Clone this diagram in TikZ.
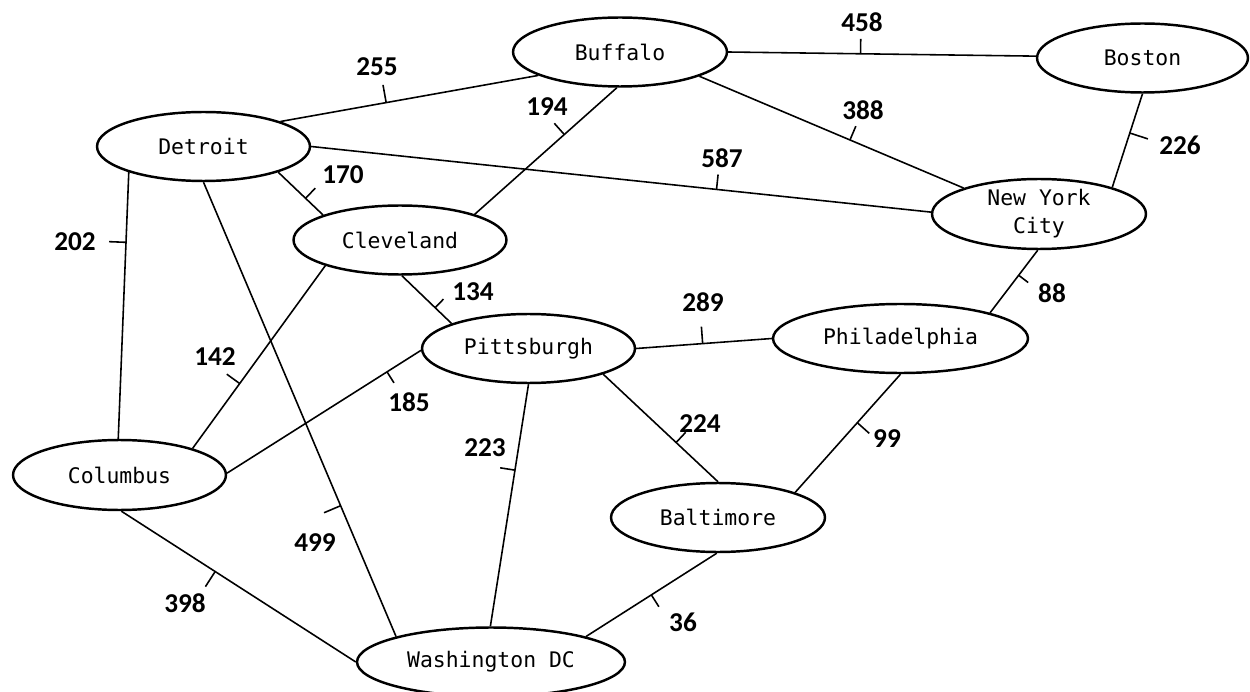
\documentclass[tikz,border=0pt]{standalone}
\usepackage{fontspec}
\usetikzlibrary{shapes.geometric,calc}
\newfontfamily\cityfnt{DejaVu Sans Mono}
\newfontfamily\wtfnt{Carlito}
\begin{document}
\begin{tikzpicture}[x=0.02cm,y=-0.02cm,
  city/.style={ellipse, draw, line width=1.4pt, inner sep=0pt, minimum height=1.38cm,
    align=center, font=\cityfnt\fontsize{12.2}{16}\selectfont},
  road/.style={line width=0.9pt},
  wt/.style={font=\wtfnt\bfseries\fontsize{15.5}{18}\selectfont, inner sep=0pt}]
\useasboundingbox (0,0) rectangle (1250,692);
% cities
\node[city, minimum width=4.28cm] (buf) at (620,52) {Buffalo};
\node[city, minimum width=4.22cm] (bos) at (1142.5,58) {Boston};
\node[city, minimum width=4.26cm] (det) at (203.5,146.5) {Detroit};
\node[city, minimum width=4.28cm, minimum height=1.4cm] (nyc) at (1039,214) {New York\\City};
\node[city, minimum width=4.26cm] (cle) at (400,240) {Cleveland};
\node[city, minimum width=4.26cm] (pit) at (528.5,348.5) {Pittsburgh};
\node[city, minimum width=5.1cm] (phi) at (900.5,338.5) {Philadelphia};
\node[city, minimum width=4.26cm, minimum height=1.4cm] (col) at (119.5,475) {Columbus};
\node[city, minimum width=4.28cm] (bal) at (718,517.5) {Baltimore};
\node[city, minimum width=5.36cm] (was) at (491,662) {Washington DC};
% roads
\draw[road] (det.18) -- coordinate[pos=0.41] (t1) (buf.-164);
\draw[road] (buf.0) -- coordinate[pos=0.43] (t2) (bos.179);
\draw[road] (buf.-17) -- coordinate[pos=0.57] (t3) (nyc.161);
\draw[road] (buf.-95) -- coordinate[pos=0.37] (t4) (cle.19);
\draw[road] (det.0) -- coordinate[pos=0.654] (t5) (nyc.179);
\draw[road] (det.-19) -- coordinate[pos=0.61] (t6) (cle.162);
\draw[road] (det.-161) -- coordinate[pos=0.263] (t7) (col.92);
\draw[road] (det.-90) -- coordinate[pos=0.712] (t8) (was.165);
\draw[road] (bos.-90) -- coordinate[pos=0.42] (t9) (nyc.20);
\draw[road] (nyc.-92) -- coordinate[pos=0.40] (t10) (phi.16);
\draw[road] (cle.-87) -- coordinate[pos=0.67] (t11) (pit.162);
\draw[road] (cle.-161) -- coordinate[pos=0.645] (t12) (col.20);
\draw[road] (pit.0) -- coordinate[pos=0.49] (t13) (phi.180);
\draw[road] (pit.181) -- coordinate[pos=0.175] (t14) (col.1);
\draw[road] (pit.-19) -- coordinate[pos=0.635] (t15) (bal.90);
\draw[road] (pit.-90) -- coordinate[pos=0.355] (t16) (was.91);
\draw[road] (phi.-90) -- coordinate[pos=0.41] (t17) (bal.18);
\draw[road] (col.-87) -- coordinate[pos=0.40] (t18) (was.180);
\draw[road] (bal.-92) -- coordinate[pos=0.50] (t19) (was.15);
% weights
\node[wt] (w1) at (377,67) {255};
\node[wt] (w2) at (862,22) {458};
\node[wt] (w3) at (863,110) {388};
\node[wt] (w4) at (547,107) {194};
\node[wt] (w5) at (722,158) {587};
\node[wt] (w6) at (343,175) {170};
\node[wt] (w7) at (75,242) {202};
\node[wt] (w8) at (315,543) {499};
\node[wt] (w9) at (1180,145) {226};
\node[wt] (w10) at (1052,293) {88};
\node[wt] (w11) at (473,292) {134};
\node[wt] (w12) at (215,357) {142};
\node[wt] (w13) at (703,302) {289};
\node[wt] (w14) at (409,402) {185};
\node[wt] (w15) at (700,424) {224};
\node[wt] (w16) at (485,448) {223};
\node[wt] (w17) at (887,439) {99};
\node[wt] (w18) at (185,603) {398};
\node[wt] (w19) at (683,622) {36};
% ticks
\draw[road] (t1) -- ($(t1)!0.36cm!90:(buf.-164)$);
\draw[road] (t2) -- ($(t2)!0.3cm!90:(bos.179)$);
\draw[road] (t3) -- ($(t3)!0.3cm!90:(nyc.161)$);
\draw[road] (t4) -- ($(t4)!0.3cm!-90:(cle.19)$);
\draw[road] (t5) -- ($(t5)!0.3cm!90:(nyc.179)$);
\draw[road] (t6) -- ($(t6)!0.28cm!90:(cle.162)$);
\draw[road] (t7) -- ($(t7)!0.34cm!-90:(col.92)$);
\draw[road] (t8) -- ($(t8)!0.36cm!-90:(was.165)$);
\draw[road] (t9) -- ($(t9)!0.38cm!90:(nyc.20)$);
\draw[road] (t10) -- ($(t10)!0.24cm!90:(phi.16)$);
\draw[road] (t11) -- ($(t11)!0.24cm!90:(pit.162)$);
\draw[road] (t12) -- ($(t12)!0.32cm!-90:(col.20)$);
\draw[road] (t13) -- ($(t13)!0.34cm!90:(phi.180)$);
\draw[road] (t14) -- ($(t14)!0.26cm!90:(col.1)$);
\draw[road] (t15) -- ($(t15)!0.28cm!90:(bal.90)$);
\draw[road] (t16) -- ($(t16)!0.3cm!-90:(was.91)$);
\draw[road] (t17) -- ($(t17)!0.32cm!90:(bal.18)$);
\draw[road] (t18) -- ($(t18)!0.36cm!-90:(was.180)$);
\draw[road] (t19) -- ($(t19)!0.28cm!90:(was.15)$);
\end{tikzpicture}
\end{document}
